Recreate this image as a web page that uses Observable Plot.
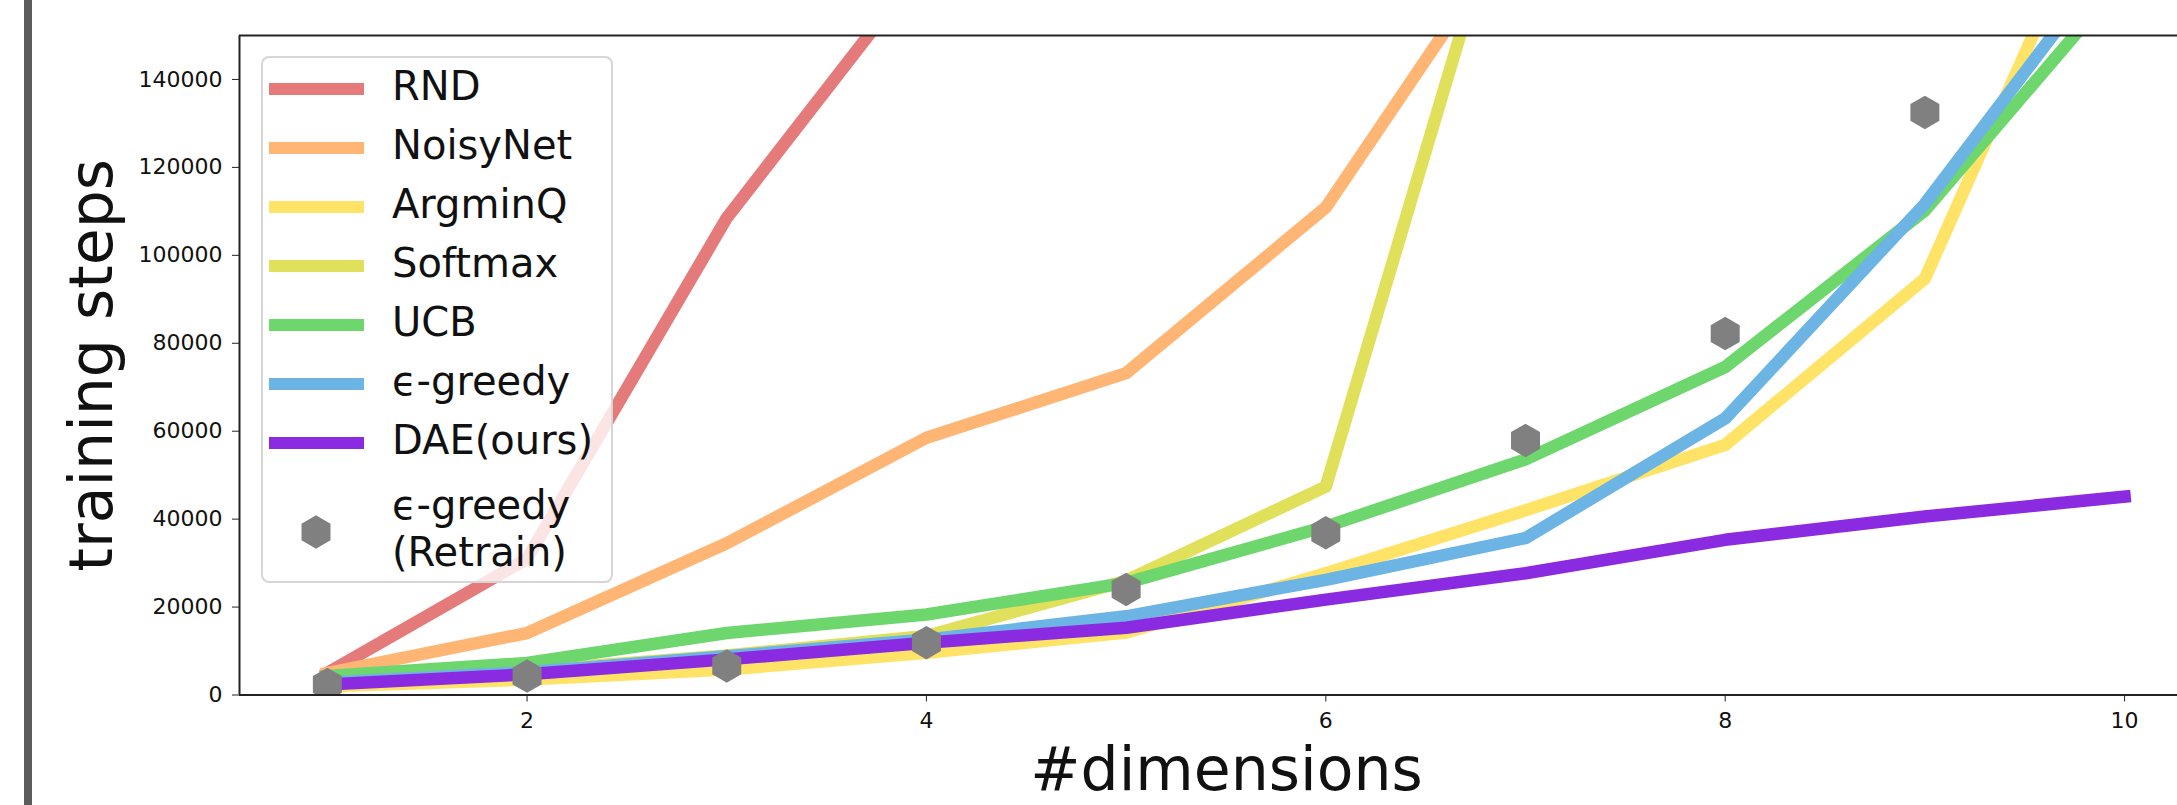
<!DOCTYPE html>
<html>
<head>
<meta charset="utf-8">
<script src="https://cdn.jsdelivr.net/npm/d3@7"></script>
<script src="https://cdn.jsdelivr.net/npm/@observablehq/plot@0.6"></script>
<style>
  html, body { margin: 0; padding: 0; background: #fff; overflow: hidden; }
  #wrap { position: relative; width: 2177px; height: 805px; font-family: "DejaVu Sans", sans-serif; }
  #bar { position: absolute; left: 24px; top: 0; width: 8px; height: 805px; background: #5c5c5c; }
  #chart { position: absolute; left: 0; top: 0; }
  #legend { position: absolute; left: 261px; top: 56px; width: 352px; height: 527px; box-sizing: border-box;
            border: 2px solid #d6d6d6; border-radius: 8px; background: rgba(255,255,255,0.8); }
  .swatch { position: absolute; left: 6px; width: 95px; height: 12px; }
  .label { position: absolute; left: 129px; font-size: 40px; line-height: 47px; color: #111; white-space: nowrap; }
</style>
</head>
<body>
<div id="wrap">
  <div id="bar"></div>
  <div id="chart"></div>
  <div id="legend"></div>
</div>
<script>
// ---- data ----
const dims = [1, 2, 3, 4, 5, 6, 7, 8, 9, 10];
const methods = ["RND", "NoisyNet", "ArgminQ", "Softmax", "UCB", "ϵ-greedy", "DAE(ours)"];
const colors = ["#e57a7a", "#ffb574", "#ffe366", "#e0e05a", "#6dd66d", "#6cb4e4", "#8a2be2"];
const rnd      = [5000, 31000, 108500, 167000];
const noisyNet = [5000, 14100, 34500, 58500, 73200, 110900, 178000];
const argminQ  = [2000, 3500, 5800, 9600, 14200, 27700, 42000, 56900, 94700, 197000];
const softmax  = [3500, 5500, 9000, 13400, 26000, 47400, 200000];
const ucb      = [4300, 7300, 14100, 18300, 25500, 38300, 53600, 74600, 110200, 163300];
const eGreedy  = [2800, 5200, 8800, 12600, 17900, 26200, 35700, 62900, 111700, 171600];
const dae      = [2400, 4700, 8100, 11900, 15300, 21700, 27700, 35300, 40600, 45100];
const retrain  = [2400, 4300, 6600, 11900, 24000, 36900, 57900, 82200, 132500];
const retrainLabel = ["ϵ-greedy", "(Retrain)"];
const retrainColor = "#808080";
const yTicks = [0, 20000, 40000, 60000, 80000, 100000, 120000, 140000];
const xTicks = [2, 4, 6, 8, 10];
const xLabel = "#dimensions";
const yLabel = "training steps";

const seriesValues = [rnd, noisyNet, argminQ, softmax, ucb, eGreedy, dae];
const series = methods.map((m, i) => ({
  name: m, color: colors[i],
  rows: seriesValues[i].map((v, j) => ({dim: dims[j], steps: v}))
}));
const retrainRows = retrain.map((v, j) => ({dim: dims[j], steps: v}));

const W = 2177, H = 805;
const hexR = 14.5;

const chart = Plot.plot({
  width: W, height: H,
  marginLeft: 239, marginTop: 35, marginBottom: 110.5, marginRight: 0,
  style: {fontFamily: "DejaVu Sans, sans-serif", background: "transparent", color: "#111"},
  x: {domain: [0.56, 10.265], label: null},
  y: {domain: [0, 150000], label: null},
  marks: [
    ...series.map(s => Plot.line(s.rows, {
      x: "dim", y: "steps", stroke: s.color, strokeWidth: 12.5,
      strokeLinecap: "square", strokeLinejoin: "round", clip: true
    })),
    Plot.dot(retrainRows, {x: "dim", y: "steps", symbol: "hexagon", r: hexR, fill: retrainColor, stroke: null, clip: true}),
    Plot.ruleY([0, 150000], {stroke: "#222", strokeWidth: 2}),
    Plot.ruleX([0.56], {stroke: "#222", strokeWidth: 2}),
    Plot.axisY({ticks: yTicks, tickFormat: d => String(d), tickSize: 7, tickPadding: 10, fontSize: 22, label: null, stroke: "#222"}),
    Plot.axisX({ticks: xTicks, tickFormat: d => String(d), tickSize: 7, tickPadding: 10, fontSize: 22, label: null, stroke: "#222"}),
    Plot.text([yLabel], {frameAnchor: "left", rotate: -90, dx: -128, fontSize: 60, lineAnchor: "bottom", textAnchor: "middle", fill: "#111"}),
    Plot.text([xLabel], {frameAnchor: "bottom", dx: 18, dy: 95, fontSize: 60, lineAnchor: "bottom", textAnchor: "middle", fill: "#111"})
  ]
});
document.getElementById("chart").appendChild(chart);

// ---- legend ----
const legend = document.getElementById("legend");
const rowStep = 59, firstCenter = 31;
series.forEach((s, i) => {
  const c = firstCenter + i * rowStep;
  const sw = document.createElement("div");
  sw.className = "swatch";
  sw.style.top = (c - 6) + "px";
  sw.style.background = s.color;
  legend.appendChild(sw);
  const lb = document.createElement("div");
  lb.className = "label";
  lb.style.top = (c - 26) + "px";
  lb.textContent = s.name;
  legend.appendChild(lb);
});
{
  const c = firstCenter + methods.length * rowStep + 30;
  const ns = "http://www.w3.org/2000/svg";
  const svg = document.createElementNS(ns, "svg");
  svg.setAttribute("width", 40); svg.setAttribute("height", 40);
  svg.style.position = "absolute";
  svg.style.left = (53 - 20) + "px";
  svg.style.top = (c - 20) + "px";
  const rx = hexR, ry = hexR * Math.sqrt(4 / 3), hy = ry / 2;
  const p = document.createElementNS(ns, "path");
  p.setAttribute("d", `M0,${ry}L${rx},${hy}L${rx},${-hy}L0,${-ry}L${-rx},${-hy}L${-rx},${hy}Z`);
  p.setAttribute("transform", "translate(20,20)");
  p.setAttribute("fill", retrainColor);
  svg.appendChild(p);
  legend.appendChild(svg);
  retrainLabel.forEach((t, k) => {
    const lb = document.createElement("div");
    lb.className = "label";
    lb.style.top = (c - 50 + k * 47) + "px";
    lb.textContent = t;
    legend.appendChild(lb);
  });
}
</script>
</body>
</html>
